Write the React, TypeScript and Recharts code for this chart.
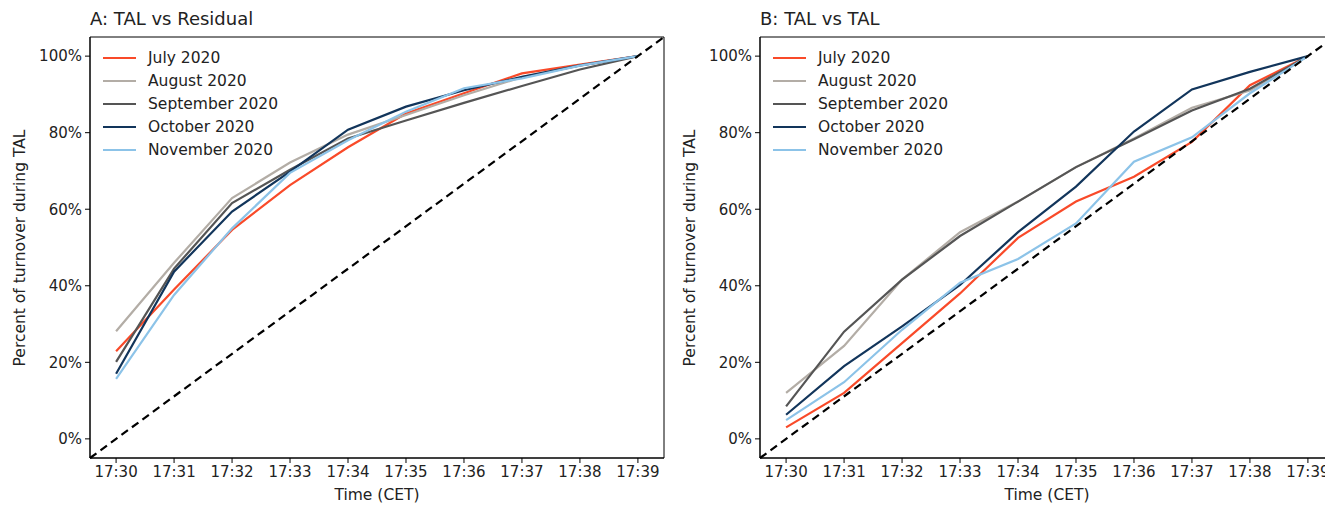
import React from "react";
import { LineChart, Line, XAxis, YAxis, ReferenceArea, ReferenceLine } from "recharts";

const timeLabels = ["17:30", "17:31", "17:32", "17:33", "17:34", "17:35", "17:36", "17:37", "17:38", "17:39"];
const yTicks = [0, 20, 40, 60, 80, 100];

const months = ["July 2020", "August 2020", "September 2020", "October 2020", "November 2020"];
const COLORS = ["#f94a29", "#b3ada6", "#555555", "#12355b", "#8cc3e8"];

// Panel A: TAL vs Residual
const residJuly = [22.9, 39, 54.6, 66.3, 76.2, 85, 90.3, 95.5, 97.8, 100];
const residAug = [28.1, 46, 62.9, 72.2, 79.5, 84.6, 89.8, 94.5, 97.5, 100];
const residSep = [20.1, 44.5, 61.6, 70.3, 78.5, 83.2, 87.8, 92.2, 96.5, 100];
const residOct = [17, 43.7, 59.4, 69.8, 80.8, 86.8, 91.1, 94.6, 97.6, 100];
const residNov = [15.7, 37.6, 55, 69.5, 78, 85.5, 91.6, 94.2, 97.5, 100];

// Panel B: TAL vs TAL
const talJuly = [3, 12, 25, 38, 52.5, 62, 68.5, 77.6, 92.4, 100];
const talAug = [12, 24.3, 41.6, 54, 62, 71, 78.5, 86.5, 91, 100];
const talSep = [8.5, 28, 41.6, 53, 62, 71, 78.3, 85.8, 91.5, 100];
const talOct = [6.3, 19, 29.4, 40.2, 54, 65.9, 80.3, 91.3, 95.9, 100];
const talNov = [4.9, 14.8, 28.5, 40.8, 47, 56.3, 72.4, 78.8, 90.3, 100];

const X_DOMAIN: [number, number] = [-0.45, 9.45];
const Y_DOMAIN: [number, number] = [-5, 105];
// equal-share line: 0% at 17:30, 100% at 17:39
const diag = (t: number) => (t * 100) / (timeLabels.length - 1);

const FONT = "'DejaVu Sans', sans-serif";

function buildRows(series: number[][]) {
  return timeLabels.map((_, i) => {
    const row: Record<string, number> = { t: i };
    series.forEach((s, k) => {
      row["s" + k] = s[i];
    });
    return row;
  });
}

const panelA = buildRows([residJuly, residAug, residSep, residOct, residNov]);
const panelB = buildRows([talJuly, talAug, talSep, talOct, talNov]);

function LegendBox() {
  return (
    <div
      style={{
        position: "absolute",
        left: 103,
        top: 46,
        fontFamily: FONT,
        fontSize: 15.5,
        color: "#222",
        whiteSpace: "nowrap",
      }}
    >
      {months.map((m, i) => (
        <div key={m} style={{ display: "flex", alignItems: "center", height: 23 }}>
          <div style={{ width: 33, height: 2, background: COLORS[i], marginRight: 12 }} />
          <span>{m}</span>
        </div>
      ))}
    </div>
  );
}

function Panel({ data, left, title }: { data: Record<string, number>[]; left: number; title: string }) {
  return (
    <div style={{ position: "absolute", left, top: 0, width: 680, height: 505 }}>
      <LineChart
        width={680}
        height={505}
        data={data}
        margin={{ top: 37, right: 16, bottom: 0, left: 0 }}
        style={{ position: "absolute", left: 0, top: 0 }}
      >
        <XAxis
          dataKey="t"
          type="number"
          domain={X_DOMAIN}
          ticks={timeLabels.map((_, i) => i)}
          tickFormatter={(v: number) => timeLabels[v]}
          interval={0}
          allowDataOverflow
          height={47}
          tickSize={5}
          tickMargin={3}
          stroke="#000"
          tick={{ fill: "#222", fontSize: 15, fontFamily: FONT }}
        />
        <YAxis
          type="number"
          domain={Y_DOMAIN}
          ticks={yTicks}
          tickFormatter={(v: number) => `${v}%`}
          interval={0}
          allowDataOverflow
          width={90}
          tickSize={5}
          tickMargin={3}
          stroke="#000"
          tick={{ fill: "#222", fontSize: 15, fontFamily: FONT }}
        />
        <ReferenceArea
          x1={X_DOMAIN[0]}
          x2={X_DOMAIN[1]}
          y1={Y_DOMAIN[0]}
          y2={Y_DOMAIN[1]}
          fill="none"
          stroke="#000"
          strokeWidth={1}
          ifOverflow="visible"
        />
        {months.map((m, i) => (
          <Line
            key={m}
            dataKey={"s" + i}
            name={m}
            type="linear"
            stroke={COLORS[i]}
            strokeWidth={2.2}
            dot={false}
            isAnimationActive={false}
          />
        ))}
        <ReferenceLine
          segment={[
            { x: X_DOMAIN[0], y: diag(X_DOMAIN[0]) },
            { x: X_DOMAIN[1], y: diag(X_DOMAIN[1]) },
          ]}
          stroke="#000"
          strokeWidth={2.2}
          strokeDasharray="8 5"
          ifOverflow="visible"
        />
      </LineChart>
      <div
        style={{
          position: "absolute",
          left: 90,
          top: 8,
          fontFamily: FONT,
          fontSize: 18,
          lineHeight: "22px",
          color: "#222",
          whiteSpace: "nowrap",
        }}
      >
        {title}
      </div>
      <div
        style={{
          position: "absolute",
          left: 20,
          top: 247.5,
          transform: "translate(-50%, -50%) rotate(-90deg)",
          fontFamily: FONT,
          fontSize: 15.5,
          color: "#222",
          whiteSpace: "nowrap",
        }}
      >
        Percent of turnover during TAL
      </div>
      <div
        style={{
          position: "absolute",
          left: 377,
          top: 495,
          transform: "translate(-50%, -50%)",
          fontFamily: FONT,
          fontSize: 15.5,
          color: "#222",
          whiteSpace: "nowrap",
        }}
      >
        Time (CET)
      </div>
      <LegendBox />
    </div>
  );
}

export default function App() {
  return (
    <div
      style={{
        position: "absolute",
        left: 0,
        top: 0,
        width: 1325,
        height: 505,
        overflow: "hidden",
        background: "#fff",
      }}
    >
      <Panel data={panelA} left={0} title="A: TAL vs Residual" />
      <Panel data={panelB} left={670} title="B: TAL vs TAL" />
    </div>
  );
}
